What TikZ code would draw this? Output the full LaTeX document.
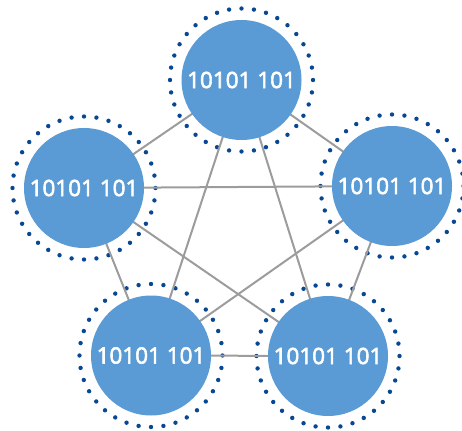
\documentclass[tikz,border=0pt]{standalone}
\usepackage{fontspec}
\setmainfont{Open Sans}
\newfontfamily\peerfont{Open Sans}[FakeBold=2.5]
\definecolor{nodeblue}{RGB}{91,155,213}
\definecolor{ringblue}{RGB}{8,72,146}
\definecolor{linkgray}{RGB}{156,156,156}
\tikzset{
  peer/.style={circle, fill=nodeblue, minimum size=120pt, inner sep=0pt,
    text=white, font=\peerfont\fontsize{22.5}{26}\selectfont},
  link/.style={draw=linkgray, line width=2pt},
}
\begin{document}
\begin{tikzpicture}[x=1pt, y=-1pt]
\useasboundingbox (0,0) rectangle (462,430);
% peer positions
\coordinate (pT)  at (241.5,80);
\coordinate (pL)  at (84,188);
\coordinate (pR)  at (392,186);
\coordinate (pBL) at (151,355.5);
\coordinate (pBR) at (328,356);
% dotted halo around every peer
\foreach \c in {pT,pL,pR,pBL,pBR}{
  \foreach \k in {0,...,35}{
    \fill[ringblue] (\c) ++({90+10*\k}:71.5) circle (2.2);
  }
}
% full mesh of links, behind the peers
\foreach \a/\b in {pT/pL,pT/pR,pT/pBL,pT/pBR,pL/pR,pL/pBL,pL/pBR,pR/pBL,pR/pBR,pBL/pBR}{
  \draw[link] (\a) -- (\b);
}
% peers
\node[peer] (nT)  at (pT)  {10101 101};
\node[peer] (nL)  at (pL)  {10101 101};
\node[peer] (nR)  at (pR)  {10101 101};
\node[peer] (nBL) at (pBL) {10101 101};
\node[peer] (nBR) at (pBR) {10101 101};
\end{tikzpicture}
\end{document}
